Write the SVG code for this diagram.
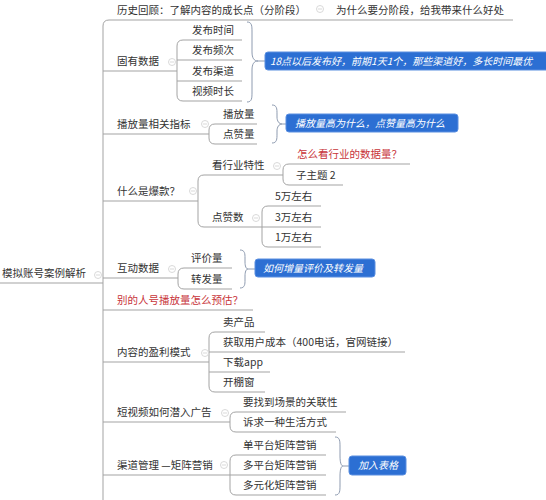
<svg xmlns="http://www.w3.org/2000/svg" width="546" height="500" viewBox="0 0 546 500">
<style>
text{font-family:"Noto Sans CJK SC","Noto Sans",sans-serif;font-size:10.5px;fill:#333}
.red{fill:#c8343a}
.cl{fill:#fff;font-size:10px;font-style:italic}
.ln{fill:none;stroke:#a3a3a3;stroke-width:1}
.br{fill:none;stroke:#8e9bb0;stroke-width:1}
.box{fill:#2c6fd3;stroke:#5a8fe0;stroke-width:1}
.col circle{fill:#fff;stroke:#cfcfcf;stroke-width:0.8}
.col path{stroke:#cfcfcf;stroke-width:0.8}
</style>
<rect width="546" height="500" fill="#fff"/>
<g id="connectors">
<path class="ln" d="M0 283H103M513 20H109Q103 20 103 26V500"/>
<path class="ln" d="M103 71H177M242 40H183Q177 40 177 46V95Q177 101 183 101H242M177 60H242M177 81H242"/>
<path class="ln" d="M103 134H209M257 124H215Q209 124 209 130V138Q209 144 215 144H257"/>
<path class="ln" d="M103 201H198M283 175H204Q198 175 198 181V221Q198 227 204 227H262M410 164H289Q283 164 283 170V179Q283 185 289 185H343M321 206H268Q262 206 262 212V241Q262 247 268 247H321M262 227H321"/>
<path class="ln" d="M103 278H178M232 268H184Q178 268 178 274V283Q178 289 184 289H232"/>
<path class="ln" d="M103 310H253"/>
<path class="ln" d="M103 362H209M265 332H215Q209 332 209 338V386Q209 392 215 392H265M209 352H405M209 372H270"/>
<path class="ln" d="M103 422H230M346 412H236Q230 412 230 418V426Q230 432 236 432H336"/>
<path class="ln" d="M103 475H230M326 455H236Q230 455 230 461V489Q230 495 236 495H326M230 475H326"/>
<path class="br" d="M247 22C252 22 252 26 252 32V52C252 58 254 61 258 61C254 61 252 64 252 70V92C252 98 252 102 247 102M258 61H265"/>
<path class="br" d="M272 105C277 105 277 109 277 114V117C277 121 279 124 282 124C279 124 277 127 277 131V134C277 139 277 143 272 143M282 124H286"/>
<path class="br" d="M240 250C245 250 245 254 245 258V262C245 266 246 269 248 269C246 269 245 272 245 276V280C245 284 245 288 240 288M248 269H255"/>
<path class="br" d="M335 437C340 437 340 441 340 447V456C340 462 341 466 343 466C341 466 340 470 340 476V485C340 491 340 495 335 495M343 466H349"/>
</g>
<g class="col">
<circle cx="98" cy="275" r="3.5"/><path d="M96 275H100"/>
<circle cx="320" cy="9" r="3.5"/><path d="M318 9H322"/>
<circle cx="172" cy="62" r="3.5"/><path d="M170 62H174"/>
<circle cx="205" cy="124" r="3.5"/><path d="M203 124H207"/>
<circle cx="193" cy="191" r="3.5"/><path d="M191 191H195"/>
<circle cx="277" cy="166" r="3.5"/><path d="M275 166H279"/>
<circle cx="256" cy="218" r="3.5"/><path d="M254 218H258"/>
<circle cx="172" cy="269" r="3.5"/><path d="M170 269H174"/>
<circle cx="205" cy="353" r="3.5"/><path d="M203 353H207"/>
<circle cx="225" cy="413" r="3.5"/><path d="M223 413H227"/>
<circle cx="224" cy="465" r="3.5"/><path d="M222 465H226"/>
</g>
<g id="root"><text x="2" y="277">模拟账号案例解析</text></g>
<g id="n1"><text x="117" y="14">历史回顾：了解内容的成长点（分阶段）</text></g>
<g id="n1a"><text x="336" y="14">为什么要分阶段，给我带来什么好处</text></g>
<g id="n2"><text x="117" y="65">固有数据</text></g>
<g id="n2a"><text x="192" y="34">发布时间</text></g>
<g id="n2b"><text x="192" y="54">发布频次</text></g>
<g id="n2c"><text x="192" y="75">发布渠道</text></g>
<g id="n2d"><text x="192" y="95">视频时长</text></g>
<g id="c1"><rect class="box" x="265" y="52" width="290" height="18" rx="3"/><text class="cl" x="270" y="65">18点以后发布好，前期1天1个，那些渠道好，多长时间最优</text></g>
<g id="n3"><text x="117" y="128">播放量相关指标</text></g>
<g id="n3a"><text x="223" y="118">播放量</text></g>
<g id="n3b"><text x="223" y="138">点赞量</text></g>
<g id="c2"><rect class="box" x="286" y="114" width="172" height="18" rx="3"/><text class="cl" x="295" y="127">播放量高为什么，点赞量高为什么</text></g>
<g id="n4"><text x="117" y="195">什么是爆款？</text></g>
<g id="n4a"><text x="212" y="169">看行业特性</text></g>
<g id="n4a1"><text class="red" x="297" y="158">怎么看行业的数据量？</text></g>
<g id="n4a2"><text x="296" y="179">子主题 2</text></g>
<g id="n4b"><text x="212" y="221">点赞数</text></g>
<g id="n4b1"><text x="275" y="200">5万左右</text></g>
<g id="n4b2"><text x="275" y="221">3万左右</text></g>
<g id="n4b3"><text x="275" y="241">1万左右</text></g>
<g id="n5"><text x="117" y="272">互动数据</text></g>
<g id="n5a"><text x="191" y="262">评价量</text></g>
<g id="n5b"><text x="191" y="283">转发量</text></g>
<g id="c3"><rect class="box" x="255" y="259" width="120" height="18" rx="3"/><text class="cl" x="263" y="272">如何增量评价及转发量</text></g>
<g id="n6"><text class="red" x="117" y="304">别的人号播放量怎么预估？</text></g>
<g id="n7"><text x="117" y="356">内容的盈利模式</text></g>
<g id="n7a"><text x="223" y="326">卖产品</text></g>
<g id="n7b"><text x="223" y="346">获取用户成本（400电话，官网链接）</text></g>
<g id="n7c"><text x="223" y="366">下载app</text></g>
<g id="n7d"><text x="223" y="386">开棚窗</text></g>
<g id="n8"><text x="117" y="416">短视频如何潜入广告</text></g>
<g id="n8a"><text x="243" y="406">要找到场景的关联性</text></g>
<g id="n8b"><text x="243" y="426">诉求一种生活方式</text></g>
<g id="n9"><text x="117" y="469">渠道管理 —矩阵营销</text></g>
<g id="n9a"><text x="243" y="449">单平台矩阵营销</text></g>
<g id="n9b"><text x="243" y="469">多平台矩阵营销</text></g>
<g id="n9c"><text x="243" y="489">多元化矩阵营销</text></g>
<g id="c4"><rect class="box" x="349" y="456" width="57" height="19" rx="3"/><text class="cl" x="358" y="469">加入表格</text></g>
</svg>
